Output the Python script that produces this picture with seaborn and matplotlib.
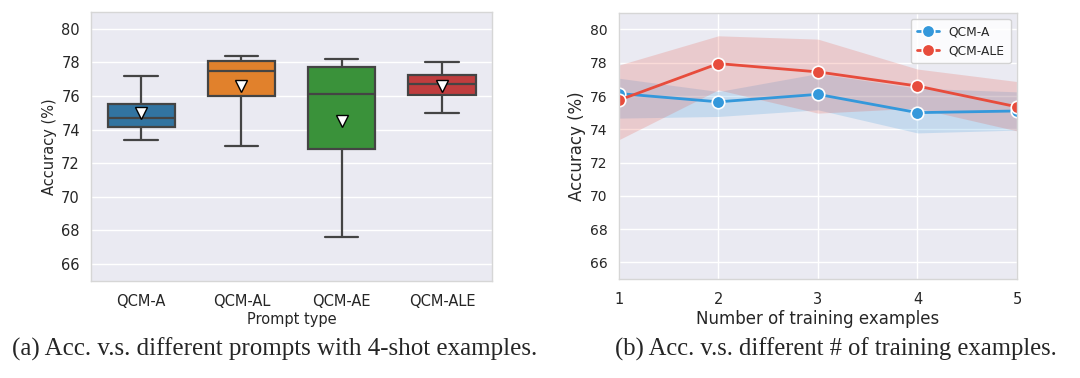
import pandas as pd
import seaborn as sns
import matplotlib.pyplot as plt
import numpy as np

# Left panel: per-prompt accuracies (5 runs each)
prompts = ['QCM-A', 'QCM-AL', 'QCM-AE', 'QCM-ALE']
acc_qcm_a = [73.4, 74.15, 74.7, 75.55, 77.2]
acc_qcm_al = [73.0, 76.0, 77.5, 78.1, 78.4]
acc_qcm_ae = [67.6, 72.85, 76.1, 77.75, 78.2]
acc_qcm_ale = [75.0, 76.05, 76.7, 77.25, 78.0]

# Right panel: mean accuracy and band per number of training examples
n_examples = [1, 2, 3, 4, 5]
mean_a = [76.15, 75.65, 76.1, 75.0, 75.1]
low_a = [74.67, 74.77, 75.17, 73.78, 73.95]
high_a = [77.07, 76.27, 77.35, 76.47, 76.25]
mean_ale = [75.75, 77.95, 77.45, 76.6, 75.35]
low_ale = [73.37, 76.37, 74.97, 75.27, 73.9]
high_ale = [77.86, 79.62, 79.42, 77.62, 76.87]

sns.set_theme(style='darkgrid', rc={'axes.edgecolor': '#d6d6d6', 'axes.linewidth': 1.0})
plt.rcParams['font.family'] = ['DejaVu Sans']

fig = plt.figure(figsize=(10.8, 3.78), dpi=100)
ax1 = fig.add_axes([0.0843, 0.257, 0.3713, 0.711])
ax2 = fig.add_axes([0.573, 0.262, 0.3687, 0.704])

# Box plot
df_box = pd.DataFrame({
    'prompt': np.repeat(prompts, 5),
    'acc': acc_qcm_a + acc_qcm_al + acc_qcm_ae + acc_qcm_ale,
})
sns.boxplot(data=df_box, x='prompt', y='acc', hue='prompt', palette='tab10',
            width=0.67, showmeans=True, linewidth=1.6, linecolor='#444444',
            ax=ax1, legend=False,
            meanprops={'marker': 'v', 'markerfacecolor': 'white',
                       'markeredgecolor': 'black', 'markersize': 9})
ax1.set_ylim(65, 81)
ax1.set_yticks([66, 68, 70, 72, 74, 76, 78, 80])
ax1.set_xlabel('Prompt type', fontsize=10.5, labelpad=2)
ax1.set_ylabel('Accuracy (%)', fontsize=10.5, labelpad=3)
ax1.tick_params(axis='x', labelsize=10.5)
ax1.tick_params(axis='y', labelsize=10.5, pad=2)

# Line plot with bands
blue, red = '#3498db', '#e74c3c'
df_line = pd.DataFrame({
    'n': n_examples * 2,
    'acc': mean_a + mean_ale,
    'prompt': ['QCM-A'] * 5 + ['QCM-ALE'] * 5,
})
sns.lineplot(data=df_line, x='n', y='acc', hue='prompt', palette=[blue, red],
             marker='o', markersize=9, markeredgecolor='white', markeredgewidth=1.2,
             linewidth=2, ax=ax2)
ax2.fill_between(n_examples, low_a, high_a, color=blue, alpha=0.2, linewidth=0)
ax2.fill_between(n_examples, low_ale, high_ale, color=red, alpha=0.2, linewidth=0)
ax2.set_xlim(1, 5)
ax2.set_ylim(65, 81)
ax2.set_xticks(n_examples)
ax2.set_yticks([66, 68, 70, 72, 74, 76, 78, 80])
ax2.set_xlabel('Number of training examples', fontsize=12, labelpad=2)
ax2.set_ylabel('Accuracy (%)', fontsize=12, labelpad=3)
ax2.tick_params(axis='x', labelsize=10.5)
ax2.tick_params(axis='y', labelsize=10, pad=2)
ax2.legend(loc='upper right', fontsize=8.8, frameon=True, facecolor='white',
           framealpha=0.85, borderpad=0.5, handlelength=1.8, labelspacing=0.5)

# Captions
fig.text(0.0115, 0.076, '(a) Acc. v.s. different prompts with 4-shot examples.',
         family='Liberation Serif', fontsize=18, va='center', ha='left')
fig.text(0.569, 0.076, '(b) Acc. v.s. different # of training examples.',
         family='Liberation Serif', fontsize=17.7, va='center', ha='left')

fig.savefig('out.png', dpi=100)
